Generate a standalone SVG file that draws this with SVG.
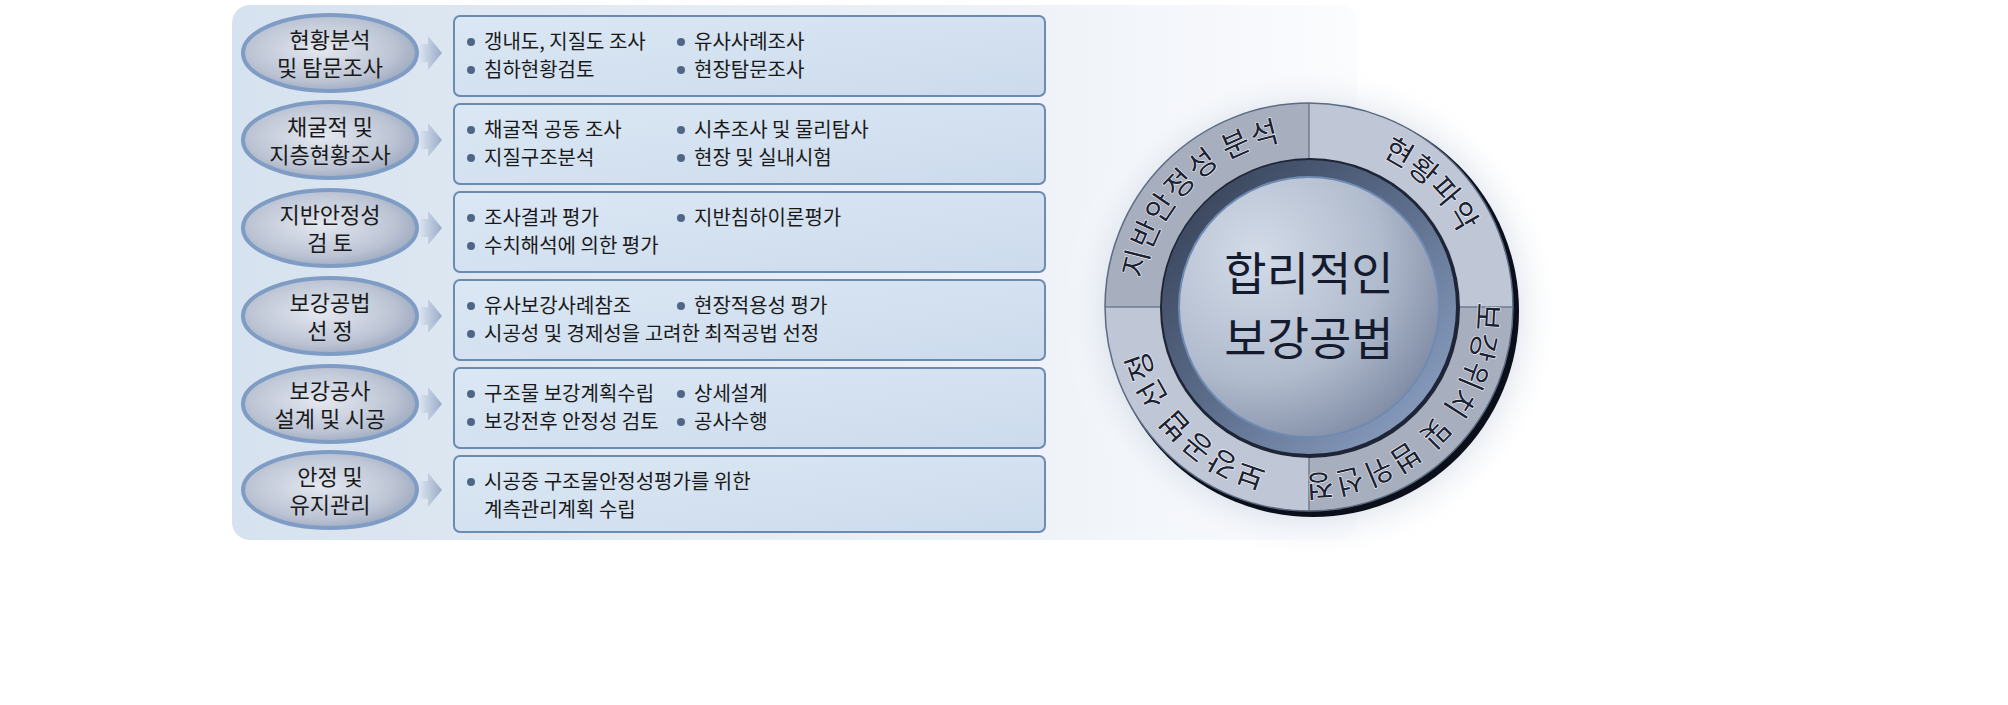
<svg xmlns="http://www.w3.org/2000/svg" width="2008" height="705" viewBox="0 0 2008 705">
<defs>
<linearGradient id="bg" x1="0" y1="0" x2="1" y2="0"><stop offset="0" stop-color="#d6e2ef"/><stop offset="0.7" stop-color="#eef2f8"/><stop offset="1" stop-color="#fbfcfe"/></linearGradient>
<linearGradient id="box" x1="0" y1="0" x2="1" y2="1"><stop offset="0" stop-color="#dbe7f4"/><stop offset="1" stop-color="#ccdbec"/></linearGradient>
<radialGradient id="ell" cx="0.45" cy="0.45" r="0.6"><stop offset="0" stop-color="#e4e8f0"/><stop offset="0.7" stop-color="#bcc4d4"/><stop offset="1" stop-color="#9aa6bc"/></radialGradient>
<linearGradient id="arr" x1="0" y1="0" x2="1" y2="0"><stop offset="0" stop-color="#dfe7f2"/><stop offset="1" stop-color="#98abc6"/></linearGradient>
<radialGradient id="core" cx="0.3" cy="0.3" r="0.8"><stop offset="0" stop-color="#d3dbe8"/><stop offset="0.6" stop-color="#b0bbcd"/><stop offset="1" stop-color="#7f8ba4"/></radialGradient>
<linearGradient id="ring" x1="0" y1="0" x2="1" y2="1"><stop offset="0" stop-color="#2f3a4f"/><stop offset="0.5" stop-color="#5d6e8c"/><stop offset="1" stop-color="#94a9cc"/></linearGradient>
<radialGradient id="glow" cx="0.5" cy="0.5" r="0.5"><stop offset="0.7" stop-color="#b9c6d8" stop-opacity="0.9"/><stop offset="1" stop-color="#ffffff" stop-opacity="0"/></radialGradient>
<path id="cp" d="M1141,307 A168,168 0 1 1 1477,307 A168,168 0 1 1 1141,307"/>
</defs>
<style>
.t{font-family:"Noto Sans CJK KR","Noto Sans",sans-serif;fill:#1a1a1a}
.bx{font-size:20px}
.el{font-size:22px;text-anchor:middle}
.rt{font-family:"Noto Sans CJK KR",sans-serif;font-size:30px;fill:#1b2233;stroke:#ffffff;stroke-width:1;paint-order:stroke;letter-spacing:1px}
.b{fill:#4f6785}
</style>
<rect x="232" y="5" width="1125" height="535" rx="18" fill="url(#bg)"/>
<circle cx="1312" cy="312" r="250" fill="url(#glow)"/>
<g id="connectors">
<path d="M418,44 h10 v-8 l14,17 l-14,17 v-8 h-10z" fill="url(#arr)"/>
<path d="M418,131 h10 v-8 l14,17 l-14,17 v-8 h-10z" fill="url(#arr)"/>
<path d="M418,219 h10 v-8 l14,17 l-14,17 v-8 h-10z" fill="url(#arr)"/>
<path d="M418,307 h10 v-8 l14,17 l-14,17 v-8 h-10z" fill="url(#arr)"/>
<path d="M418,395 h10 v-8 l14,17 l-14,17 v-8 h-10z" fill="url(#arr)"/>
<path d="M418,481 h10 v-8 l14,17 l-14,17 v-8 h-10z" fill="url(#arr)"/>
</g>
<g id="n1"><ellipse cx="330" cy="53" rx="87" ry="38" fill="url(#ell)" stroke="#7f9cc4" stroke-width="4"/><text class="t el" x="330" y="48">현황분석</text><text class="t el" x="330" y="76">및 탐문조사</text></g>
<g id="n2"><ellipse cx="330" cy="140" rx="87" ry="38" fill="url(#ell)" stroke="#7f9cc4" stroke-width="4"/><text class="t el" x="330" y="135">채굴적 및</text><text class="t el" x="330" y="163">지층현황조사</text></g>
<g id="n3"><ellipse cx="330" cy="228" rx="87" ry="38" fill="url(#ell)" stroke="#7f9cc4" stroke-width="4"/><text class="t el" x="330" y="223">지반안정성</text><text class="t el" x="330" y="251">검  토</text></g>
<g id="n4"><ellipse cx="330" cy="316" rx="87" ry="38" fill="url(#ell)" stroke="#7f9cc4" stroke-width="4"/><text class="t el" x="330" y="311">보강공법</text><text class="t el" x="330" y="339">선  정</text></g>
<g id="n5"><ellipse cx="330" cy="404" rx="87" ry="38" fill="url(#ell)" stroke="#7f9cc4" stroke-width="4"/><text class="t el" x="330" y="399">보강공사</text><text class="t el" x="330" y="427">설계 및 시공</text></g>
<g id="n6"><ellipse cx="330" cy="490" rx="87" ry="38" fill="url(#ell)" stroke="#7f9cc4" stroke-width="4"/><text class="t el" x="330" y="485">안정 및</text><text class="t el" x="330" y="513">유지관리</text></g>
<g stroke="#6c8bb0" stroke-width="2" fill="url(#box)">
<rect id="b1" x="454" y="16" width="591" height="80" rx="6"/>
<rect id="b2" x="454" y="104" width="591" height="80" rx="6"/>
<rect id="b3" x="454" y="192" width="591" height="80" rx="6"/>
<rect id="b4" x="454" y="280" width="591" height="80" rx="6"/>
<rect id="b5" x="454" y="368" width="591" height="80" rx="6"/>
<rect id="b6" x="454" y="456" width="591" height="76" rx="6"/>
</g>
<g id="box-text">
<g class="b"><circle cx="471" cy="42" r="4"/><circle cx="471" cy="70" r="4"/><circle cx="681" cy="42" r="4"/><circle cx="681" cy="70" r="4"/>
<circle cx="471" cy="130" r="4"/><circle cx="471" cy="158" r="4"/><circle cx="681" cy="130" r="4"/><circle cx="681" cy="158" r="4"/>
<circle cx="471" cy="218" r="4"/><circle cx="471" cy="246" r="4"/><circle cx="681" cy="218" r="4"/>
<circle cx="471" cy="306" r="4"/><circle cx="471" cy="334" r="4"/><circle cx="681" cy="306" r="4"/>
<circle cx="471" cy="394" r="4"/><circle cx="471" cy="422" r="4"/><circle cx="681" cy="394" r="4"/><circle cx="681" cy="422" r="4"/>
<circle cx="471" cy="482" r="4"/></g>
<text class="t bx" x="484" y="49">갱내도, 지질도 조사</text><text class="t bx" x="694" y="49">유사사례조사</text>
<text class="t bx" x="484" y="77">침하현황검토</text><text class="t bx" x="694" y="77">현장탐문조사</text>
<text class="t bx" x="484" y="137">채굴적 공동 조사</text><text class="t bx" x="694" y="137">시추조사 및 물리탐사</text>
<text class="t bx" x="484" y="165">지질구조분석</text><text class="t bx" x="694" y="165">현장 및 실내시험</text>
<text class="t bx" x="484" y="225">조사결과 평가</text><text class="t bx" x="694" y="225">지반침하이론평가</text>
<text class="t bx" x="484" y="253">수치해석에 의한 평가</text>
<text class="t bx" x="484" y="313">유사보강사례참조</text><text class="t bx" x="694" y="313">현장적용성 평가</text>
<text class="t bx" x="484" y="341">시공성 및 경제성을 고려한 최적공법 선정</text>
<text class="t bx" x="484" y="401">구조물 보강계획수립</text><text class="t bx" x="694" y="401">상세설계</text>
<text class="t bx" x="484" y="429">보강전후 안정성 검토</text><text class="t bx" x="694" y="429">공사수행</text>
<text class="t bx" x="484" y="489">시공중 구조물안정성평가를 위한</text>
<text class="t bx" x="484" y="517">계측관리계획 수립</text>
</g>
<g id="hub">
<circle cx="1313" cy="311" r="206" fill="#0a0f1a"/>
<path d="M1309,307 L1105,307 A204,204 0 0 1 1309,103Z" fill="#a7afbf"/>
<path d="M1309,307 L1309,103 A204,204 0 0 1 1513,307Z" fill="#bfc7d6"/>
<path d="M1309,307 L1513,307 A204,204 0 0 1 1309,511Z" fill="#a7afbf"/>
<path d="M1309,307 L1309,511 A204,204 0 0 1 1105,307Z" fill="#bfc7d6"/>
<g stroke="#6f7b90" stroke-width="1.5"><line x1="1105" y1="307" x2="1513" y2="307"/><line x1="1309" y1="103" x2="1309" y2="511"/></g>
<circle cx="1309" cy="307" r="204" fill="none" stroke="#5c6a82" stroke-width="1.5"/>
<circle cx="1310" cy="308" r="150" fill="#1e2536"/>
<circle cx="1309" cy="307" r="147" fill="url(#ring)"/>
<circle cx="1309" cy="307" r="130" fill="url(#core)" stroke="#6f8ab3" stroke-width="2"/>
<text class="rt"><textPath href="#cp" startOffset="12.5%" text-anchor="middle">지반안정성 분석</textPath></text>
<text class="rt"><textPath href="#cp" startOffset="37.5%" text-anchor="middle">현황파악</textPath></text>
<text class="rt"><textPath href="#cp" startOffset="62.5%" text-anchor="middle">보강위치 및 범위선정</textPath></text>
<text class="rt"><textPath href="#cp" startOffset="87.5%" text-anchor="middle">보강공법 선정</textPath></text>
<text x="1309" y="290" text-anchor="middle" style="font-family:'Noto Sans CJK KR',sans-serif;font-size:46px;fill:#141b2e">합리적인</text>
<text x="1309" y="355" text-anchor="middle" style="font-family:'Noto Sans CJK KR',sans-serif;font-size:46px;fill:#141b2e">보강공법</text>
</g>
</svg>
